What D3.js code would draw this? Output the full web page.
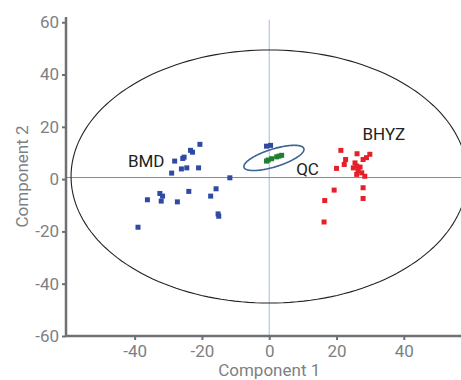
<!DOCTYPE html>
<html>
<head>
<meta charset="utf-8">
<script src="https://cdn.jsdelivr.net/npm/d3@7"></script>
<style>
  body { margin: 0; background: #fff; }
  svg { display: block; font-family: Roboto, "Noto Sans", sans-serif; }
</style>
</head>
<body>
<div id="chart"></div>
<script>
// score plot: three groups, Hotelling ellipse and a QC ellipse
const bmdX = [-20.6, -23.4, -22.8, -25.3, -25.7, -28.1, -24.5, -26.1, -21.0, -29.0, -11.7, -15.8, -23.9, -32.5, -31.7, -36.2, -32.1, -27.3, -17.4, -15.2, -15.0, -39.0, -0.8, 0.4];
const bmdY = [13.3, 11.0, 10.3, 8.4, 7.9, 6.9, 4.3, 3.9, 4.3, 2.3, 0.5, -3.7, -4.7, -5.5, -6.5, -7.9, -8.4, -8.7, -6.5, -13.3, -14.2, -18.4, 12.6, 12.9];
const qcX = [-0.8, -0.3, 0.7, 2.2, 2.9, 3.7];
const qcY = [6.9, 7.3, 7.8, 8.5, 8.8, 9.1];
const bhyzX = [21.3, 26.1, 29.9, 28.9, 27.9, 22.7, 22.3, 25.5, 26.0, 25.0, 27.0, 26.4, 20.0, 27.5, 26.0, 28.4, 27.9, 19.3, 27.9, 16.5, 16.3];
const bhyzY = [11.0, 9.7, 9.5, 8.2, 7.5, 7.5, 5.6, 6.2, 5.0, 4.3, 4.6, 3.3, 4.1, 2.4, 1.8, 1.1, -3.3, -4.2, -7.4, -8.2, -16.4];
const xTicks = [-40, -20, 0, 20, 40];
const yTicks = [-60, -40, -20, 0, 20, 40, 60];
// ellipses in data units: [cx, cy, a, b, angle deg]
const bigEllipse = [0, 1.0, 58.9, 48.4, 0];
const qcEllipse = [1.4, 8.1, 9.6, 3.3, 23];

const W = 461, H = 380;
const svg = d3.select("#chart").append("svg").attr("width", W).attr("height", H);

const x = d3.scaleLinear().domain([-60.4, 57]).range([66, 461]);
const y = d3.scaleLinear().domain([-60, 62]).range([336, 17]);

const axisColor = "#6e7074";
const labelColor = "#7d7f83";

// zero lines
svg.append("line")
    .attr("x1", x(0)).attr("x2", x(0))
    .attr("y1", y(61)).attr("y2", y(-60))
    .attr("stroke", "#a7bbdb").attr("stroke-width", 1);
svg.append("line")
    .attr("x1", x(-60.4)).attr("x2", x(57))
    .attr("y1", y(0.6)).attr("y2", y(0.6))
    .attr("stroke", "#8a8a8a").attr("stroke-width", 1);

function ellipsePath(e) {
    const [cx, cy, a, b, deg] = e;
    const r = deg * Math.PI / 180;
    const pts = d3.range(0, 361, 2).map(t => {
        const th = t * Math.PI / 180;
        const dx = a * Math.cos(th), dy = b * Math.sin(th);
        return [x(cx + dx * Math.cos(r) - dy * Math.sin(r)), y(cy + dx * Math.sin(r) + dy * Math.cos(r))];
    });
    return d3.line()(pts) + "Z";
}

svg.append("path").attr("d", ellipsePath(bigEllipse))
    .attr("fill", "none").attr("stroke", "#222").attr("stroke-width", 1.1);

// points
function drawGroup(xs, ys, color) {
    const s = 5;
    svg.append("g").selectAll("rect")
        .data(xs.map((v, i) => [v, ys[i]]))
        .join("rect")
        .attr("x", d => x(d[0]) - s / 2)
        .attr("y", d => y(d[1]) - s / 2)
        .attr("width", s).attr("height", s)
        .attr("fill", color);
}
drawGroup(bmdX, bmdY, "#2f4aa3");
drawGroup(bhyzX, bhyzY, "#e5202b");
drawGroup(qcX, qcY, "#1f7f31");

svg.append("path").attr("d", ellipsePath(qcEllipse))
    .attr("fill", "none").attr("stroke", "#3b6592").attr("stroke-width", 1.6);

// group labels
const labels = [["BMD", -42.0, 4.8], ["QC", 8.0, 1.6], ["BHYZ", 27.7, 15.0]];
svg.append("g").selectAll("text")
    .data(labels)
    .join("text")
    .attr("x", d => x(d[1])).attr("y", d => y(d[2]))
    .attr("fill", "#222").style("font-size", "17px")
    .text(d => d[0]);

// axes (plain hyphen minus like the original)
const fmt = d => String(d);
const gx = svg.append("g").attr("transform", `translate(0,${y(-60)})`)
    .call(d3.axisBottom(x).tickValues(xTicks).tickFormat(fmt).tickSize(4).tickPadding(5));
const gy = svg.append("g").attr("transform", `translate(${x(-60.4)},0)`)
    .call(d3.axisLeft(y).tickValues(yTicks).tickFormat(fmt).tickSize(4).tickPadding(3));
[gx, gy].forEach(g => {
    g.select(".domain").attr("stroke", axisColor).attr("stroke-width", 2.5);
    g.selectAll(".tick line").attr("stroke", axisColor).attr("stroke-width", 2);
    g.selectAll(".tick text").attr("fill", labelColor).style("font-size", "17px").style("font-family", "Roboto, sans-serif");
});
gy.select(".domain").attr("d", `M0,${y(62)}V${y(-60)}`);
gx.select(".domain").attr("d", `M${x(-60.4)},0H${x(57)}`);

svg.append("text")
    .attr("x", x(0)).attr("y", 376)
    .attr("text-anchor", "middle")
    .attr("fill", labelColor).style("font-size", "17px")
    .text("Component 1");
svg.append("text")
    .attr("transform", `translate(28,${y(1)}) rotate(-90)`)
    .attr("text-anchor", "middle")
    .attr("fill", labelColor).style("font-size", "17px")
    .text("Component 2");
</script>
</body>
</html>
